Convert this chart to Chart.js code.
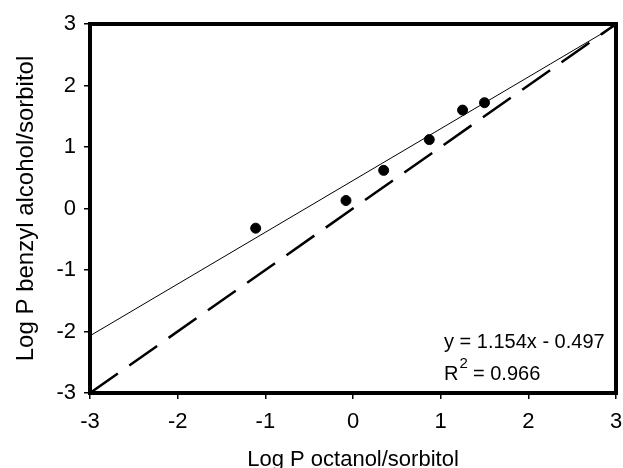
<!DOCTYPE html>
<html>
<head>
<meta charset="utf-8">
<script src="https://cdn.jsdelivr.net/npm/chart.js@4"></script>
<style>
  body { margin: 0; background: #fff; }
  #wrap { width: 623px; height: 468px; }
</style>
</head>
<body>
<div id="wrap"><canvas id="grafico" width="623" height="468"></canvas></div>
<script>
// datos
const octanolX = [-1.11, -0.08, 0.35, 0.87, 1.25, 1.5];
const benzylY = [-0.32, 0.13, 0.62, 1.12, 1.6, 1.72];
const ajusteX = [-3, 3];
const ajusteY = [-2.07, 2.98];
const identidadX = [-3, 3];
const identidadY = [-3, 3];
const marcas = [-3, -2, -1, 0, 1, 2, 3];
const ecuacion = 'y = 1.154x - 0.497';
const r2 = '0.966';

const fuente = "'Liberation Sans', Arial, sans-serif";
const pares = (xs, ys) => xs.map((x, i) => ({ x: x, y: ys[i] }));

// marco grueso y ecuacion
const marco = {
  id: 'marco',
  afterDatasetsDraw(chart) {
    const { ctx, chartArea: a } = chart;
    ctx.save();
    ctx.strokeStyle = '#000';
    ctx.lineWidth = 4;
    ctx.strokeRect(a.left, a.top, a.right - a.left, a.bottom - a.top);

    ctx.fillStyle = '#000';
    ctx.textBaseline = 'alphabetic';
    ctx.textAlign = 'left';
    ctx.font = '20px ' + fuente;
    const tx = a.right - 172;
    ctx.fillText(ecuacion, tx, a.bottom - 45);
    ctx.fillText('R', tx, a.bottom - 13);
    const wR = ctx.measureText('R').width;
    ctx.font = '15px ' + fuente;
    ctx.fillText('2', tx + wR + 1, a.bottom - 25);
    ctx.font = '20px ' + fuente;
    ctx.fillText(' = ' + r2, tx + wR + 9, a.bottom - 13);
    ctx.restore();
  }
};

const ejeComun = (titulo, tam) => ({
  type: 'linear',
  min: -3,
  max: 3,
  afterBuildTicks: s => { s.ticks = marcas.map(v => ({ value: v })); },
  ticks: { color: '#000', font: { family: fuente, size: 22 }, padding: 8 },
  grid: { drawOnChartArea: false, drawTicks: true, tickLength: 6, color: '#000', lineWidth: 1.5 },
  border: { display: true, color: '#000', width: 4 },
  title: { display: true, text: titulo, color: '#000', font: { family: fuente, size: tam, lineHeight: 1 }, padding: 0 }
});

const ejeX = ejeComun('Log P octanol/sorbitol', 22);
ejeX.ticks.padding = 10;
ejeX.title.padding = { top: 0, bottom: -3 };
ejeX.afterFit = s => { s.height = 75; s.paddingLeft = 0; s.paddingRight = 0; };
const ejeY = ejeComun('Log P benzyl alcohol/sorbitol', 24);
ejeY.afterFit = s => { s.width = 76; s.paddingTop = 0; s.paddingBottom = 0; };

new Chart(document.getElementById('grafico'), {
  type: 'scatter',
  data: {
    datasets: [
      {
        label: 'datos',
        data: pares(octanolX, benzylY),
        backgroundColor: '#000',
        borderColor: '#000',
        pointRadius: 5,
        showLine: false
      },
      {
        label: 'ajuste',
        data: pares(ajusteX, ajusteY),
        showLine: true,
        borderColor: '#000',
        borderWidth: 1,
        pointRadius: 0
      },
      {
        label: 'y = x',
        data: pares(identidadX, identidadY),
        showLine: true,
        borderColor: '#000',
        borderWidth: 2.5,
        borderDash: [34, 14],
        pointRadius: 0
      }
    ]
  },
  options: {
    responsive: false,
    animation: false,
    devicePixelRatio: 1,
    layout: { padding: { left: 14, right: 7, top: 24, bottom: 0 } },
    plugins: { legend: { display: false }, tooltip: { enabled: false } },
    scales: { x: ejeX, y: ejeY }
  },
  plugins: [marco]
});
</script>
</body>
</html>
